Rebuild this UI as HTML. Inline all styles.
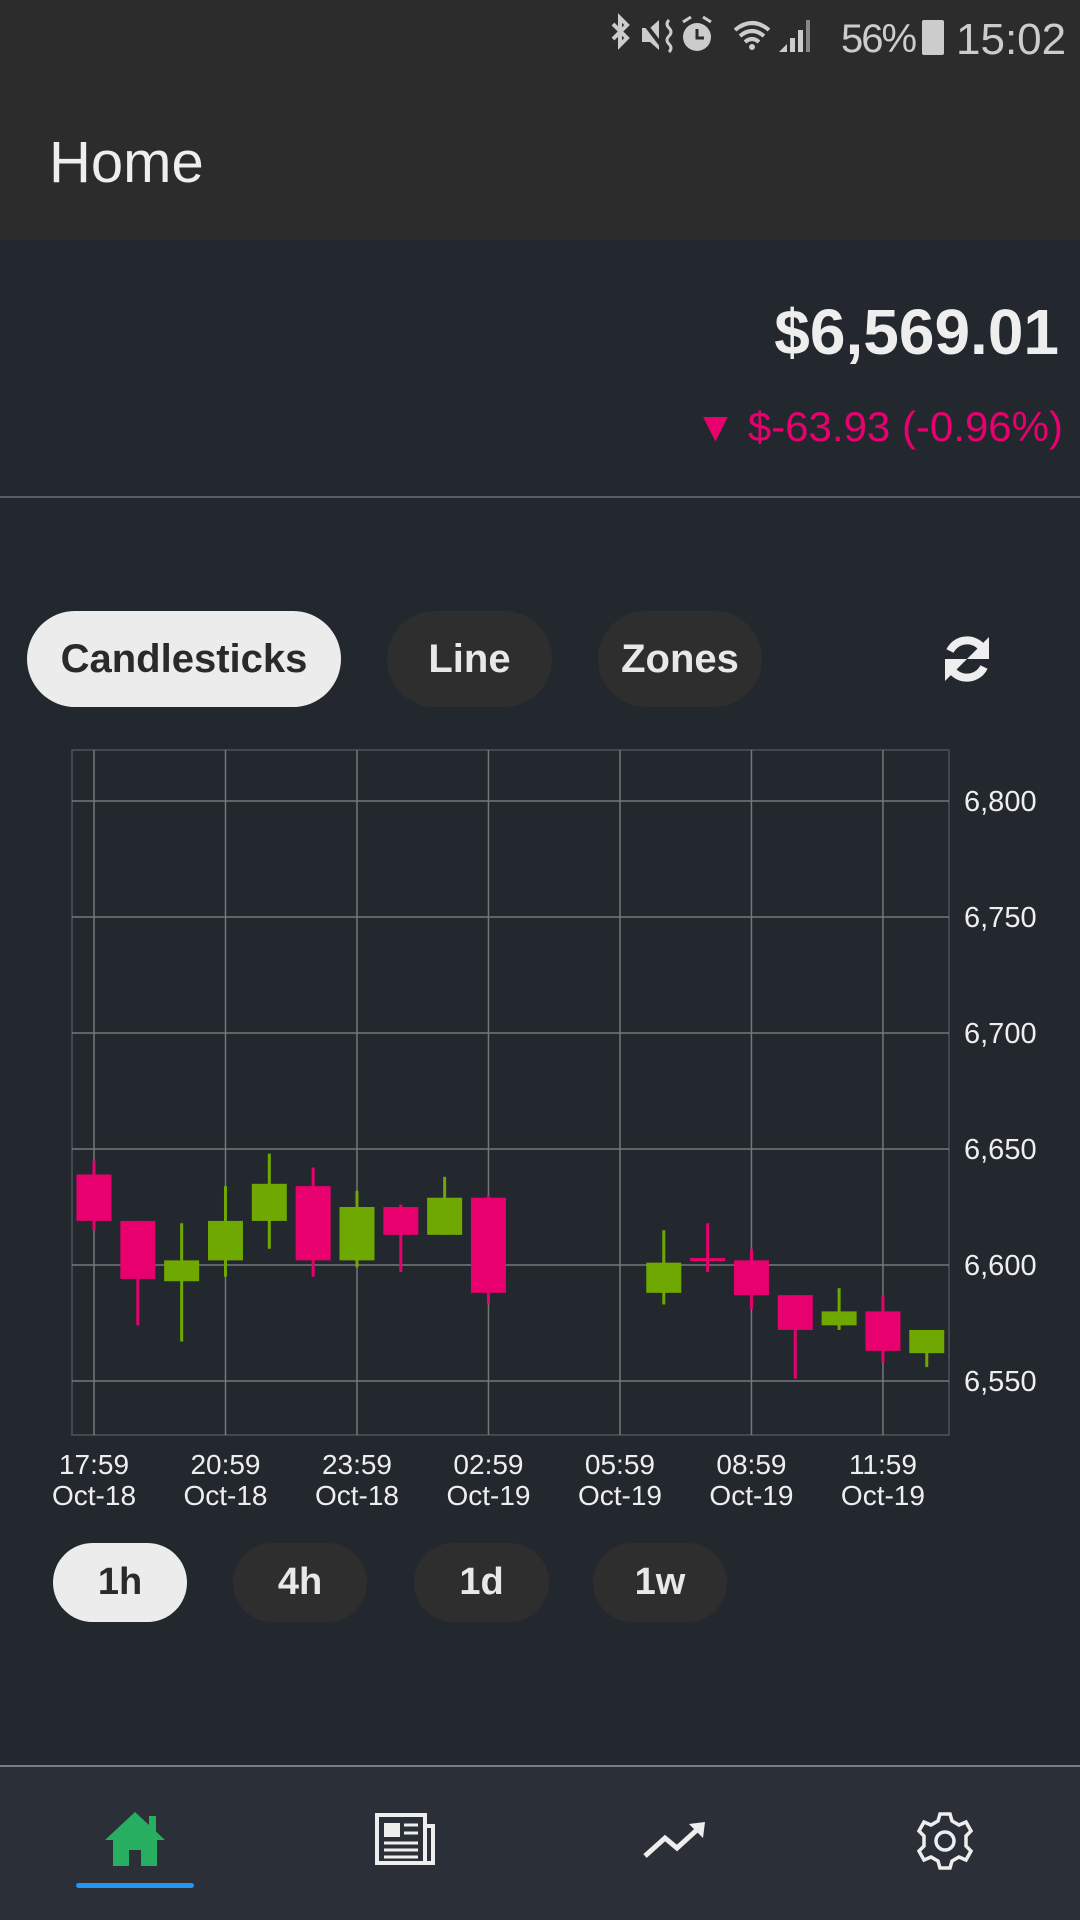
<!DOCTYPE html>
<html><head><meta charset="utf-8">
<style>
*{margin:0;padding:0;box-sizing:border-box}
body{width:1080px;height:1920px;background:#23282f;font-family:"Liberation Sans",sans-serif;position:relative;overflow:hidden;color:#eee}
.abs{position:absolute}
.pill{position:absolute;border-radius:50px;display:flex;align-items:center;justify-content:center;font-weight:bold;color:#e8e8e8;background:#2e2e2e}
.pill.on{background:#ececec;color:#2a2a2a}
</style></head><body>
<div class="abs" style="left:0;top:0;width:1080px;height:240px;background:#2c2c2c"></div>
<svg class="abs" style="left:592px;top:12px" width="240" height="46" viewBox="0 0 210 46">
<path d="M6 12 L20 26 L13 33 L13 6 L20 13 L6 27" stroke="#ccc" stroke-width="4" fill="none"/>
<polygon points="35,16 43,16 52,8 52,38 43,30 35,30" fill="#ccc"/><path d="M35 8 L58 38" stroke="#2c2c2c" stroke-width="4"/><path d="M62 8 q-4 4 0 8 q4 4 0 8 q-4 4 0 8 q4 4 0 8" stroke="#ccc" stroke-width="3" fill="none"/>
<circle cx="90" cy="25" r="14" fill="#ccc"/><path d="M90 17 V26 H97" stroke="#2c2c2c" stroke-width="3" fill="none"/><path d="M76 10 L84 5 M104 10 L96 5" stroke="#ccc" stroke-width="3"/>
<path d="M128 18 Q145 4 162 18 M133 24 Q145 14 157 24 M138 30 Q145 24 152 30" stroke="#ccc" stroke-width="4" fill="none"/><circle cx="145" cy="35" r="3" fill="#ccc"/>
<polygon points="172,40 180,40 180,32" fill="#ccc"/><rect x="183" y="26" width="5" height="14" fill="#ccc"/><rect x="191" y="18" width="5" height="22" fill="#ccc"/><rect x="199" y="8" width="4" height="32" fill="#888"/>
</svg>
<div class="abs" style="left:841px;top:17px;font-size:40px;letter-spacing:-2px;color:#ccc">56%</div>
<div class="abs" style="left:922px;top:20px;width:22px;height:35px;background:#ccc;border-radius:2px"></div>
<div class="abs" style="left:956px;top:15px;font-size:44px;color:#ccc">15:02</div>
<div class="abs" style="left:49px;top:129px;font-size:58px;color:#eee">Home</div>
<div class="abs" style="right:21px;top:295px;font-size:64px;font-weight:bold;color:#eee">$6,569.01</div>
<div class="abs" style="right:17px;top:403px;font-size:42px;color:#e8006f">▼ $-63.93 (-0.96%)</div>
<div class="abs" style="left:0;top:496px;width:1080px;height:2px;background:#5a5d62"></div>
<div class="pill on" style="left:27px;top:611px;width:314px;height:96px;font-size:40px">Candlesticks</div>
<div class="pill" style="left:387px;top:611px;width:165px;height:96px;font-size:40px">Line</div>
<div class="pill" style="left:598px;top:611px;width:164px;height:96px;font-size:40px">Zones</div>
<svg class="abs" style="left:937px;top:629px" width="60" height="60" viewBox="0 0 60 60"><path d="M48 24 A19 19 0 0 0 13 22" stroke="#eee" stroke-width="8" fill="none"/><polygon points="52,8 52,30 30,30" fill="#eee"/><path d="M12 36 A19 19 0 0 0 47 38" stroke="#eee" stroke-width="8" fill="none"/><polygon points="8,52 8,30 30,30" fill="#eee"/></svg>
<svg class="abs" id="chart" style="left:0;top:0" width="1080" height="1540"></svg>
<div class="pill on" style="left:53px;top:1543px;width:134px;height:79px;font-size:38px">1h</div>
<div class="pill" style="left:233px;top:1543px;width:134px;height:79px;font-size:38px">4h</div>
<div class="pill" style="left:414px;top:1543px;width:135px;height:79px;font-size:38px">1d</div>
<div class="pill" style="left:593px;top:1543px;width:134px;height:79px;font-size:38px">1w</div>
<div class="abs" style="left:0;top:1765px;width:1080px;height:155px;background:#2b3038;border-top:2px solid #7a7d82"></div>
<svg class="abs" style="left:103px;top:1808px" width="64" height="60" viewBox="0 0 64 60"><polygon points="32,4 2,32 10,32 10,58 26,58 26,42 38,42 38,58 54,58 54,32 62,32" fill="#27ae60"/><rect x="46" y="8" width="7" height="16" fill="#27ae60"/></svg>
<div class="abs" style="left:76px;top:1883px;width:118px;height:5px;background:#2196f3;border-radius:3px"></div>
<svg class="abs" style="left:374px;top:1812px" width="62" height="54" viewBox="0 0 62 54"><rect x="3" y="3" width="48" height="48" fill="none" stroke="#eee" stroke-width="4"/><path d="M51 14 H59 V51 H51" fill="none" stroke="#eee" stroke-width="4"/><rect x="10" y="11" width="16" height="14" fill="#eee"/><path d="M30 13H44M30 21H44M10 31H44M10 38H44M10 45H44" stroke="#eee" stroke-width="3"/></svg>
<svg class="abs" style="left:643px;top:1820px" width="64" height="40" viewBox="0 0 64 40"><polyline points="2,36 22,18 34,28 56,8" stroke="#eee" stroke-width="5" fill="none"/><polygon points="46,4 62,2 60,18" fill="#eee"/></svg>
<svg class="abs" style="left:914px;top:1810px" width="62" height="62" viewBox="0 0 62 62"><g transform="translate(31,31)" fill="none" stroke="#eee" stroke-width="3.5"><circle r="9"/><path d="M-5,-27 L5,-27 L7,-20 L14,-16 L21,-19 L26,-10 L21,-5 L21,5 L26,10 L21,19 L14,16 L7,20 L5,27 L-5,27 L-7,20 L-14,16 L-21,19 L-26,10 L-21,5 L-21,-5 L-26,-10 L-21,-19 L-14,-16 L-7,-20 Z"/></g></svg>
<script>
const candleIndex=[0,1,2,3,4,5,6,7,8,9,13,14,15,16,17,18,19];
const opens =[6639,6619,6593,6602,6619,6634,6602,6625,6613,6629,6588,6603,6602,6587,6574,6580,6562];
const closes=[6619,6594,6602,6619,6635,6602,6625,6613,6629,6588,6601,6603,6587,6572,6580,6563,6572];
const highs =[6645,6619,6618,6634,6648,6642,6632,6626,6638,6630,6615,6618,6607,6587,6590,6587,6572];
const lows  =[6615,6574,6567,6595,6607,6595,6599,6597,6613,6583,6583,6597,6581,6551,6572,6558,6556];
const yTicks=[6550,6600,6650,6700,6750,6800];
const xTickIndex=[0,3,6,9,12,15,18];
const xTickTimes=["17:59","20:59","23:59","02:59","05:59","08:59","11:59"];
const xTickDates=["Oct-18","Oct-18","Oct-18","Oct-19","Oct-19","Oct-19","Oct-19"];
const svg=document.getElementById('chart');
const NS='http://www.w3.org/2000/svg';
const L=72,R=949,T=750,B=1435;
const y=v=>1265-(v-6600)*116/50;
const x=i=>94+i*43.83;
function mk(tag,at){const e=document.createElementNS(NS,tag);for(const k in at)e.setAttribute(k,at[k]);svg.appendChild(e);return e;}
const frame=mk('rect',{x:L,y:T,width:R-L,height:B-T,fill:'none',stroke:'#44484e','stroke-width':2});


yTicks.forEach(v=>{
 const g=mk('line',{x1:L,x2:R,y1:y(v),y2:y(v),stroke:'#777','stroke-width':1.5});
 
 
 const t=mk('text',{x:964,y:y(v)+10,fill:'#eee','font-size':29,'font-family':'Liberation Sans, sans-serif'});
 t.textContent=v.toLocaleString('en-US');
 
 
});
xTickIndex.forEach((i,k)=>{
 const g=mk('line',{x1:x(i),x2:x(i),y1:T,y2:B,stroke:'#777','stroke-width':1.5});
 
 
 const t1=mk('text',{x:x(i),y:1474,fill:'#eee','font-size':28,'text-anchor':'middle','font-family':'Liberation Sans, sans-serif'});
 t1.textContent=xTickTimes[k];
 
 
 const t2=mk('text',{x:x(i),y:1505,fill:'#eee','font-size':28,'text-anchor':'middle','font-family':'Liberation Sans, sans-serif'});
 t2.textContent=xTickDates[k];
 
 
});
candleIndex.forEach((i,k)=>{
 const o=opens[k],c=closes[k];
 const col=c>o?'#6fa800':'#e8006f';
 const cx=x(i);
 const w=mk('line',{x1:cx,x2:cx,y1:y(highs[k]),y2:y(lows[k]),stroke:col,'stroke-width':3});
 
 
 const top=y(Math.max(o,c)),h=Math.max(3,y(Math.min(o,c))-top);
 const b=mk('rect',{x:cx-17.5,y:top,width:35,height:h,fill:col});
 
 
});
</script>
</body></html>
